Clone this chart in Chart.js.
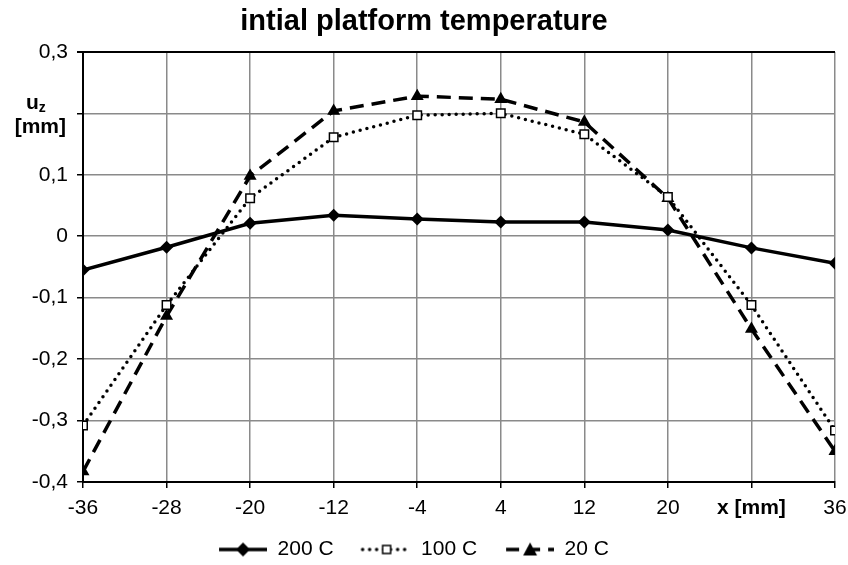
<!DOCTYPE html>
<html>
<head>
<meta charset="utf-8">
<script src="https://cdn.jsdelivr.net/npm/chart.js@4.4.1/dist/chart.umd.min.js"></script>
<style>
  html, body { margin: 0; padding: 0; background: #fff; }
  #wrap { width: 848px; height: 565px; }
</style>
</head>
<body>
<div id="wrap"><canvas id="chart" width="848" height="565"></canvas></div>
<script>
const xValues = [-36, -28, -20, -12, -4, 4, 12, 20, 28, 36];
const temp200 = [-0.055, -0.018, 0.021, 0.034, 0.028, 0.023, 0.023, 0.010, -0.019, -0.044];
const temp100 = [-0.308, -0.112, 0.062, 0.161, 0.197, 0.200, 0.166, 0.064, -0.112, -0.316];
const temp20 = [-0.383, -0.130, 0.098, 0.204, 0.228, 0.223, 0.186, 0.062, -0.151, -0.350];
const seriesNames = ["200 C", "100 C", "20 C"];

const FONT = "Arial, 'Liberation Sans', sans-serif";

function pairs(ys) {
    return xValues.map((x, i) => ({ x: x, y: ys[i] }));
}

// legend picture: empty space on the left, then line piece with marker
function legendIcon(dash, marker) {
    const c = document.createElement('canvas');
    c.width = 72;
    c.height = 16;
    const g = c.getContext('2d');
    const o = 22;
    g.strokeStyle = '#000';
    g.lineWidth = 3.5;
    g.lineCap = dash.length && dash[0] === 0 ? 'round' : 'butt';
    g.setLineDash(dash);
    g.beginPath();
    g.moveTo(o + 2, 8);
    g.lineTo(o + 50, 8);
    g.stroke();
    g.setLineDash([]);
    g.lineWidth = 1.5;
    g.fillStyle = '#000';
    g.beginPath();
    const m = o + 26;
    if (marker === 'diamond') {
        g.moveTo(m, 1); g.lineTo(m + 7, 8); g.lineTo(m, 15); g.lineTo(m - 7, 8); g.closePath();
        g.fill();
    } else if (marker === 'square') {
        g.fillStyle = '#fff';
        g.rect(m - 4, 4, 8, 8);
        g.fill();
        g.stroke();
    } else {
        g.moveTo(m, 1); g.lineTo(m + 7, 14); g.lineTo(m - 7, 14); g.closePath();
        g.fill();
    }
    return c;
}

const icons = [
    legendIcon([], 'diamond'),
    legendIcon([0, 7], 'square'),
    legendIcon([13, 8], 'triangle')
];

const uzLabel = {
    id: 'uzLabel',
    afterLayout(chart) {
        // nudge the legend a bit left and down, like in the original
        chart.legend.left -= 22;
        chart.legend.right -= 22;
        chart.legend.top += 5;
        chart.legend.bottom += 5;
    },
    afterDraw(chart) {
        const y = chart.scales.y.getPixelForValue(0.2);
        const g = chart.ctx;
        g.save();
        g.fillStyle = '#000';
        g.textBaseline = 'middle';
        g.textAlign = 'left';
        g.font = "bold 21px " + FONT;
        g.fillText('u', 26, y - 10);
        const w = g.measureText('u').width;
        g.font = "bold 14px " + FONT;
        g.fillText('z', 26 + w, y - 5);
        g.font = "bold 21px " + FONT;
        g.textAlign = 'right';
        g.fillText('[mm]', 66, y + 14);
        g.restore();
    }
};

new Chart(document.getElementById('chart'), {
    type: 'line',
    data: {
        datasets: [{
            label: seriesNames[0],
            data: pairs(temp200),
            borderColor: '#000',
            backgroundColor: '#000',
            borderWidth: 3.5,
            pointStyle: 'rectRot',
            pointRadius: 6.5,
            pointBackgroundColor: '#000',
            pointBorderWidth: 0
        }, {
            label: seriesNames[1],
            data: pairs(temp100),
            borderColor: '#000',
            borderWidth: 3.5,
            borderDash: [0, 7],
            borderCapStyle: 'round',
            pointStyle: 'rect',
            pointRadius: 6,
            pointBackgroundColor: '#fff',
            pointBorderColor: '#000',
            pointBorderWidth: 1.5
        }, {
            label: seriesNames[2],
            data: pairs(temp20),
            borderColor: '#000',
            borderWidth: 3.5,
            borderDash: [14, 8],
            pointStyle: 'triangle',
            pointRadius: 7.5,
            pointBackgroundColor: '#000',
            pointBorderWidth: 0
        }]
    },
    options: {
        responsive: false,
        animation: false,
        layout: { padding: 0 },
        plugins: {
            title: {
                display: true,
                text: 'intial platform temperature',
                color: '#000',
                font: { family: FONT, size: 29, weight: 'bold', lineHeight: 1.1 },
                padding: { top: 6, bottom: 14 }
            },
            legend: {
                position: 'bottom',
                labels: {
                    color: '#000',
                    font: { family: FONT, size: 21 },
                    usePointStyle: true,
                    pointStyleWidth: 72,
                    padding: 5,
                    generateLabels: chart => chart.data.datasets.map((ds, i) => ({
                        text: ds.label,
                        pointStyle: icons[i],
                        datasetIndex: i,
                        fontColor: '#000',
                        lineWidth: 0,
                        strokeStyle: 'transparent',
                        fillStyle: 'transparent'
                    }))
                }
            },
            tooltip: { enabled: false }
        },
        elements: { line: { tension: 0 } },
        scales: {
            x: {
                type: 'linear',
                min: -36,
                max: 36,
                afterFit: s => { s.height = 47; s.paddingRight = 13; s.paddingLeft = 0; },
                ticks: {
                    stepSize: 8,
                    color: '#000',
                    padding: 8,
                    maxRotation: 0,
                    autoSkip: false,
                    font: ctx => ({ family: FONT, size: 21, weight: ctx.tick && ctx.tick.value === 28 ? 'bold' : 'normal' }),
                    callback: v => v === 28 ? 'x [mm]' : String(v)
                },
                grid: {
                    color: '#8a8a8a',
                    lineWidth: 1.5,
                    tickColor: '#000',
                    tickLength: 6
                },
                border: { color: '#000', width: 2 }
            },
            y: {
                min: -0.4,
                max: 0.3,
                afterFit: s => { s.width = 83; },
                ticks: {
                    stepSize: 0.1,
                    color: '#000',
                    padding: 9,
                    font: { family: FONT, size: 21 },
                    callback: v => {
                        if (Math.abs(v - 0.2) < 1e-9) return '';
                        if (Math.abs(v) < 1e-9) return '0';
                        return v.toFixed(1).replace('.', ',');
                    }
                },
                grid: {
                    color: ctx => ctx.tick && Math.abs(ctx.tick.value - 0.3) < 1e-9 ? '#000' : '#8a8a8a',
                    lineWidth: ctx => ctx.tick && Math.abs(ctx.tick.value - 0.3) < 1e-9 ? 2 : 1.5,
                    tickColor: '#000',
                    tickLength: 6
                },
                border: { color: '#000', width: 2 }
            }
        }
    },
    plugins: [uzLabel]
});
</script>
</body>
</html>
